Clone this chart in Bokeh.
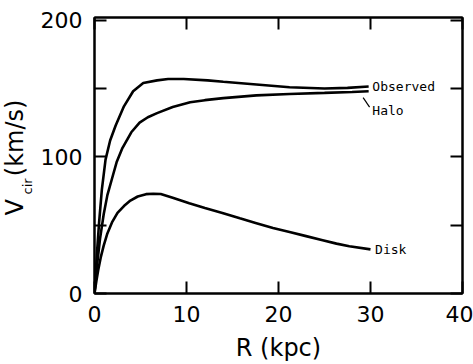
from bokeh.plotting import figure
from bokeh.models import LinearAxis, FixedTicker, Label, CustomJSTickFormatter, Title
from bokeh.embed import file_html
from bokeh.resources import INLINE

# ---- data ----
obs_r = [0, 0.25, 0.5, 0.8, 1.2, 1.7, 2.3, 3.2, 4.2, 5.3, 6.8, 8.0, 9.7, 12.3, 14.0, 17.6, 21.2, 25.0, 27.5, 29.8]
obs_v = [0, 28, 52, 76, 98, 112, 123, 137, 148, 154, 156, 157, 157, 156, 155, 153, 151, 150, 150.5, 151.5]

halo_r = [0, 0.3, 0.6, 1.0, 1.4, 1.9, 2.4, 3.0, 4.0, 4.9, 5.8, 6.8, 8.5, 10.4, 12.0, 14.0, 17.6, 21.2, 25.0, 28.0, 29.8]
halo_v = [0, 22, 40, 58, 72, 84, 96, 106, 118, 125, 129, 132, 136.5, 140, 141.5, 143, 145, 146, 146.8, 147.5, 148]

disk_r = [0, 0.2, 0.4, 0.7, 1.0, 1.4, 1.9, 2.5, 3.2, 3.9, 4.7, 5.6, 6.4, 7.2, 8.5, 10.3, 12.0, 13.9, 15.8, 17.6, 19.4, 21.2, 23.0, 24.8, 26.3, 27.7, 30.0]
disk_v = [0, 9, 17, 27, 35, 44, 52, 59, 64, 68, 71, 72.7, 73, 72.8, 70, 66, 62.5, 59, 55, 51.5, 48, 45, 42, 39, 36.5, 34.6, 32.3]

x_ticks = [0, 10, 20, 30, 40]
y_ticks = [0, 100, 200]
y_minor = [50, 150]

FONT = "DejaVu Sans"
MONO = "DejaVu Sans Mono"

p = figure(width=473, height=364, x_range=(0, 40), y_range=(0, 202),
           output_backend="svg", toolbar_location=None,
           min_border_left=94, min_border_right=11, min_border_top=17, min_border_bottom=71)
p.grid.visible = False
p.outline_line_color = "black"
p.outline_line_width = 2

xt = FixedTicker(ticks=x_ticks)
yt = FixedTicker(ticks=y_ticks, minor_ticks=y_minor)

for ax in (p.xaxis[0], p.yaxis[0]):
    ax.axis_line_width = 2
    ax.major_tick_in = 12
    ax.major_tick_out = 0
    ax.minor_tick_in = 12
    ax.minor_tick_out = 0
    ax.major_tick_line_width = 2
    ax.minor_tick_line_width = 2
    ax.major_label_text_font = FONT
    ax.major_label_text_font_size = "22px"
    ax.major_label_text_color = "black"

p.xaxis[0].ticker = xt
p.yaxis[0].ticker = yt
p.xaxis[0].major_label_standoff = 12
p.yaxis[0].major_label_standoff = 12
p.xaxis[0].axis_label = "R (kpc)"
p.xaxis[0].axis_label_text_font = FONT
p.xaxis[0].axis_label_text_font_size = "24px"
p.xaxis[0].axis_label_text_font_style = "normal"
p.xaxis[0].axis_label_text_color = "black"
p.xaxis[0].axis_label_standoff = 9

# y-axis title: subscript "cir" next to the axis, "V   (km/s)" outside it
sub = Title(text="cir", align="left", offset=99, standoff=6,
            text_font=FONT, text_font_size="13px", text_font_style="normal", text_color="black")
main = Title(text="V\u00a0\u00a0\u00a0(km/s)", align="left", offset=78, standoff=-28,
             text_font=FONT, text_font_size="24px", text_font_style="normal", text_color="black")
p.add_layout(sub, "left")
p.add_layout(main, "left")

blank = CustomJSTickFormatter(code="return ''")
right = LinearAxis(ticker=FixedTicker(ticks=y_ticks, minor_ticks=y_minor), formatter=blank)
top = LinearAxis(ticker=FixedTicker(ticks=x_ticks), formatter=blank)
for ax in (right, top):
    ax.axis_line_width = 2
    ax.major_tick_in = 12
    ax.major_tick_out = 0
    ax.minor_tick_in = 12
    ax.minor_tick_out = 0
    ax.major_tick_line_width = 2
    ax.minor_tick_line_width = 2
    ax.major_label_standoff = 0
    ax.major_label_text_font_size = "1px"
p.add_layout(right, "right")
p.add_layout(top, "above")

lw = 2.6
p.line(obs_r, obs_v, line_color="black", line_width=lw)
p.line(halo_r, halo_v, line_color="black", line_width=lw)
p.line(disk_r, disk_v, line_color="black", line_width=lw)

# curve labels
for txt, x, y in [("Observed", 30.2, 151.5), ("Halo", 30.2, 134.0), ("Disk", 30.5, 32.2)]:
    p.add_layout(Label(x=x, y=y, text=txt, text_font=MONO, text_font_size="13px",
                       text_align="left", text_baseline="middle", text_color="black"))
p.segment(x0=[29.2], y0=[143.3], x1=[29.9], y1=[136.4], line_color="black", line_width=1.2)

open("out.html", "w").write(file_html(p, INLINE))
